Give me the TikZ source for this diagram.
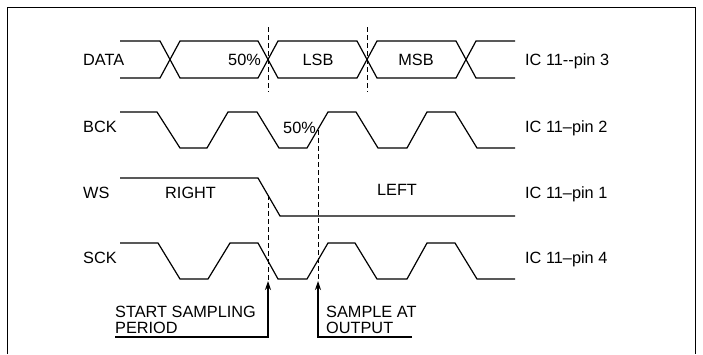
\documentclass[tikz,border=0pt]{standalone}
\usepackage{fontspec}
\setmainfont{Liberation Sans}
\usetikzlibrary{arrows.meta}
\begin{document}
\begin{tikzpicture}[x=1pt,y=-1pt,
  wave/.style={line width=1.2pt, line join=miter},
  guide/.style={line width=0.8pt, dash pattern=on 5pt off 3pt},
  marker/.style={line width=1.1pt, -{Stealth[length=9pt,width=6pt]}},
  lbl/.style={inner sep=0pt, anchor=base west, font=\fontsize{16.3}{17}\selectfont},
  clbl/.style={lbl, anchor=base},
  frame/.style={line width=1pt}]
\useasboundingbox (0,0) rectangle (703,354);
% frame
\draw[frame] (7,354) -- (7,7) -- (695,7) -- (695,354);
% DATA
\draw[wave] (120,41)--(160,41)--(180,78)--(258,78)--(278,41)--(357,41)--(377,78)--(456,78)--(476,41)--(515,41);
\draw[wave] (120,78)--(160,78)--(180,41)--(258,41)--(278,78)--(357,78)--(377,41)--(456,41)--(476,78)--(515,78);
% BCK
\draw[wave] (120,112)--(157,112)--(180,148)--(207,148)--(228,112)--(257,112)--(279,148)--(307,148)--(328,112)--(356,112)--(378,148)--(407,148)--(427,112)--(455,112)--(477,148)--(515,148);
% WS
\draw[wave] (120,178)--(258,178)--(280,216)--(515,216);
% SCK
\draw[wave] (120,243)--(158,243)--(180,279)--(208,279)--(230,243)--(258,243)--(278,279)--(307,279)--(328,243)--(355,243)--(377,279)--(407,279)--(427,243)--(455,243)--(477,279)--(515,279);
% guides
\coordinate (g1t) at (268,27); \coordinate (g1b) at (268,92);
\coordinate (g2t) at (367,27); \coordinate (g2b) at (367,92);
\coordinate (ws) at (268,195); \coordinate (tipA) at (268,281);
\coordinate (bck) at (318,130); \coordinate (tipB) at (318,281);
\coordinate (baseA) at (115,337); \coordinate (baseB) at (412,337);
\draw[guide] (g1t) -- (g1b);
\draw[guide] (g2t) -- (g2b);
\draw[guide] (ws) -- (tipA);
\draw[guide] (bck) -- (tipB);
\draw[marker] (baseA) -| (tipA);
\draw[marker] (baseB) -| (tipB);
% labels
\node[lbl] (ldata) at (83,65) {DATA};
\node[lbl] (lbck) at (83,132) {BCK};
\node[lbl] (lws) at (83,198) {WS};
\node[lbl] (lsck) at (83,263) {SCK};
\node[lbl] (p50a) at (228,65) {50\%};
\node[clbl] (lsb) at (318,65) {LSB};
\node[clbl] (msb) at (416,65) {MSB};
\node[lbl] (p50b) at (283,133) {50\%};
\node[lbl] (right) at (165,198) {RIGHT};
\node[clbl] (left) at (397,195) {LEFT};
\node[lbl] (pin3) at (525,65) {IC 11-{}-pin 3};
\node[lbl] (pin2) at (525,132) {IC 11--pin 2};
\node[lbl] (pin1) at (525,198) {IC 11--pin 1};
\node[lbl] (pin4) at (525,263) {IC 11--pin 4};
\node[lbl] (start1) at (115,317) {START SAMPLING};
\node[lbl] (start2) at (115,333) {PERIOD};
\node[lbl] (samp1) at (326,317) {SAMPLE AT};
\node[lbl] (samp2) at (326,333) {OUTPUT};
\end{tikzpicture}
\end{document}
